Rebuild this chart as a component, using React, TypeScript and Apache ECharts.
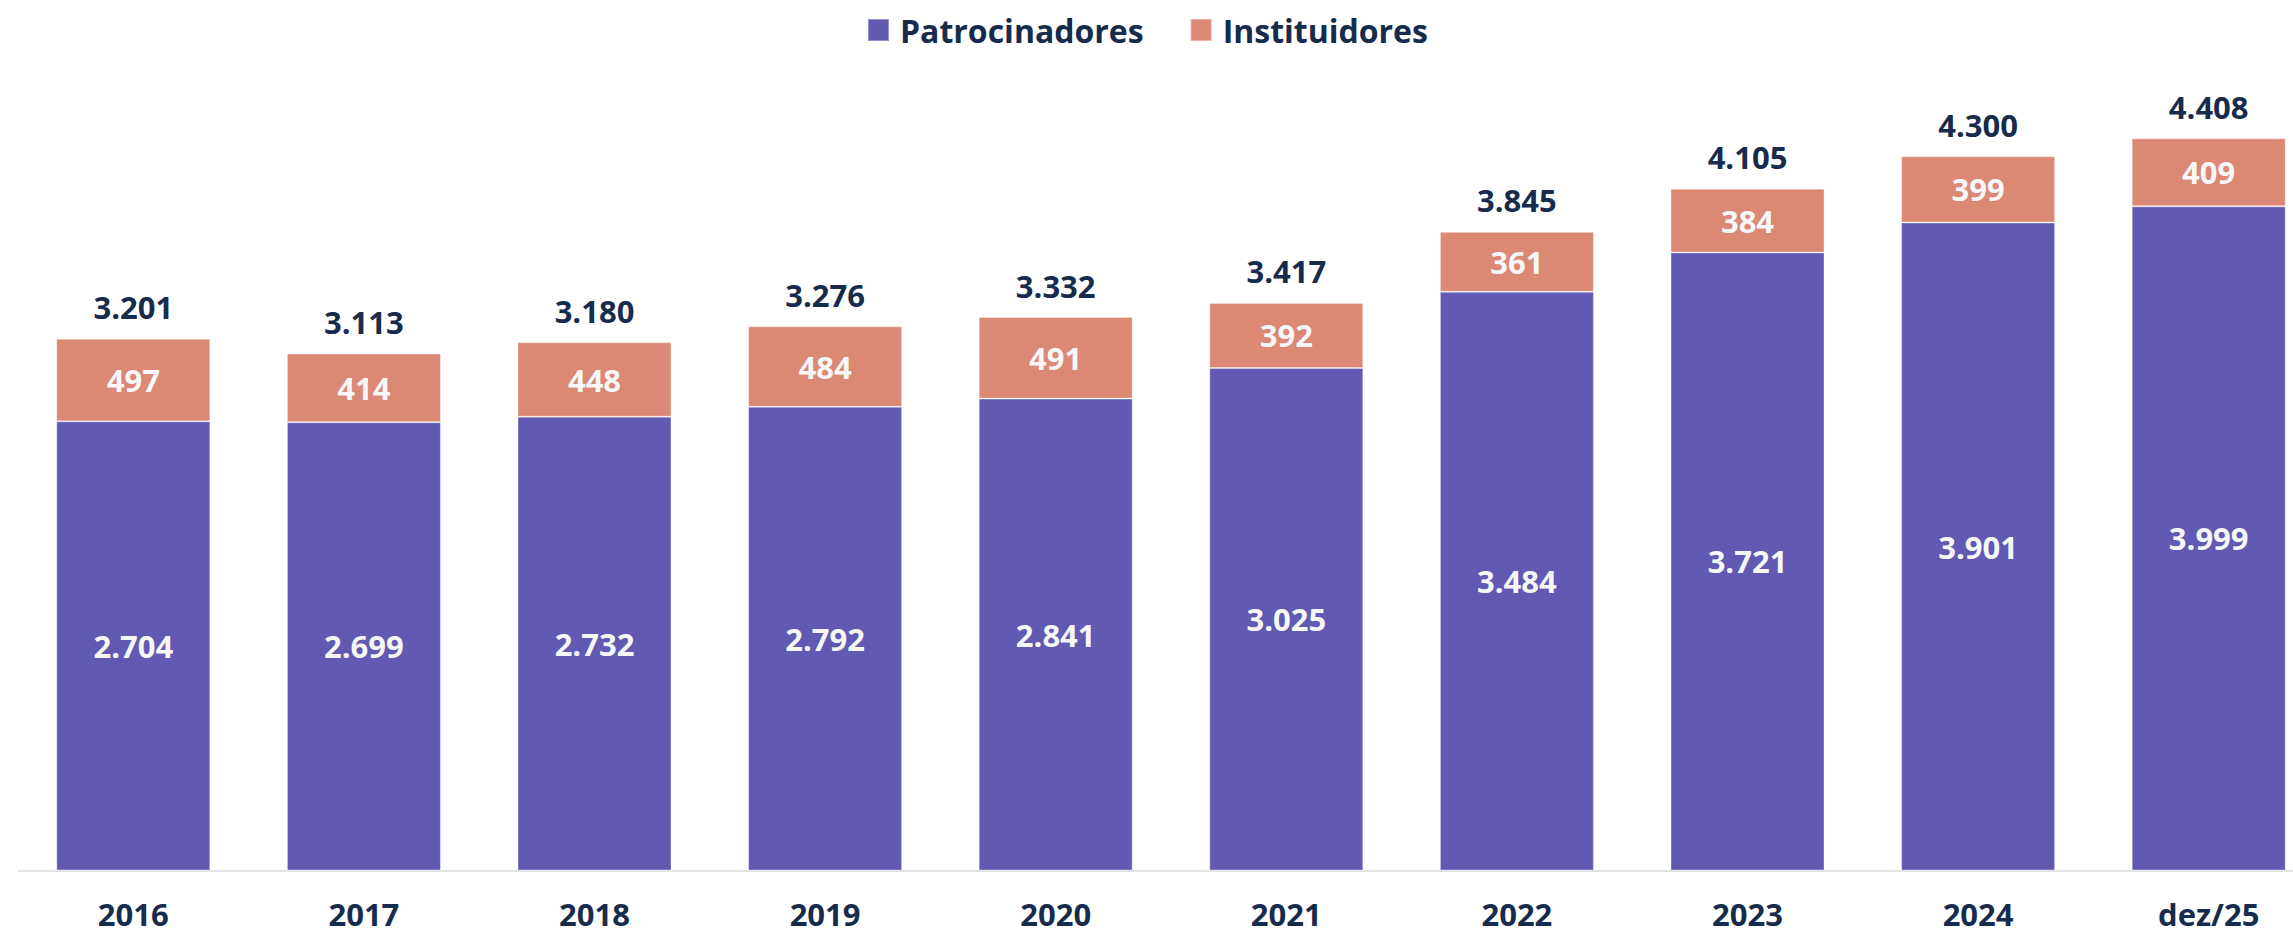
import React, { useEffect, useRef } from "react";
import * as echarts from "echarts";

const categories = ["2016", "2017", "2018", "2019", "2020", "2021", "2022", "2023", "2024", "dez/25"];
const patrocinadores = [2704, 2699, 2732, 2792, 2841, 3025, 3484, 3721, 3901, 3999];
const instituidores = [497, 414, 448, 484, 491, 392, 361, 384, 399, 409];
const totals = patrocinadores.map((v, i) => v + instituidores[i]);

const fmt = (n: number) => String(n).replace(/\B(?=(\d{3})+(?!\d))/g, ".");

const DARK = "#172B4D";
const PURPLE = "#6259B3";
const ORANGE = "#DB8874";
const FONT = "'Open Sans', 'Noto Sans', sans-serif";

export default function App() {
  const ref = useRef<HTMLDivElement>(null);
  useEffect(() => {
    if (!ref.current) return;
    const chart = echarts.init(ref.current, null, { renderer: "svg" });
    chart.setOption({
      animation: false,
      textStyle: { fontFamily: FONT },
      legend: {
        left: 862,
        top: 9,
        icon: "rect",
        itemWidth: 21,
        itemHeight: 22,
        itemGap: 46,
        data: ["Patrocinadores", "Instituidores"],
        textStyle: { color: DARK, fontSize: 32, fontWeight: "bold", fontFamily: FONT, padding: [0, 0, 0, 6] },
      },
      grid: { left: 18, width: 2306, top: 40, bottom: 62.5, outerBoundsMode: "none", containLabel: false },
      xAxis: {
        type: "category",
        data: categories,
        axisLine: { lineStyle: { color: "#d9d9d9", width: 1.5 } },
        axisTick: { show: false },
        axisLabel: {
          color: DARK,
          fontSize: 31,
          fontWeight: "bold",
          fontFamily: FONT,
          margin: 28,
          lineHeight: 31,
        },
      },
      yAxis: {
        type: "value",
        min: 0,
        max: 5000,
        show: false,
        splitLine: { show: false },
      },
      series: [
        {
          name: "Patrocinadores",
          type: "bar",
          stack: "total",
          barWidth: 154,
          data: patrocinadores,
          itemStyle: { color: PURPLE, borderColor: "rgba(255,255,255,0.35)", borderWidth: 1 },
          label: {
            show: true,
            position: "inside",
            color: "#F7F7F7",
            fontSize: 31,
            fontWeight: "bold",
            fontFamily: FONT,
            formatter: (p: any) => fmt(p.value),
          },
        },
        {
          name: "Instituidores",
          type: "bar",
          stack: "total",
          barWidth: 154,
          data: instituidores,
          itemStyle: { color: ORANGE, borderColor: "rgba(255,255,255,0.35)", borderWidth: 1 },
          label: {
            show: true,
            position: "inside",
            color: "#F7F7F7",
            fontSize: 31,
            fontWeight: "bold",
            fontFamily: FONT,
            formatter: (p: any) => fmt(p.value),
          },
        },
        {
          name: "Total",
          type: "bar",
          stack: "total",
          barWidth: 154,
          data: totals.map(() => 0),
          itemStyle: { color: "transparent" },
          label: {
            show: true,
            position: "top",
            distance: 16,
            color: DARK,
            fontSize: 31,
            fontWeight: "bold",
            fontFamily: FONT,
            formatter: (p: any) => fmt(totals[p.dataIndex]),
          },
        },
      ],
    });
    return () => chart.dispose();
  }, []);
  return (
    <div
      ref={ref}
      style={{ position: "absolute", left: 0, top: 0, width: 2293, height: 933, background: "#fff", overflow: "hidden" }}
    />
  );
}
